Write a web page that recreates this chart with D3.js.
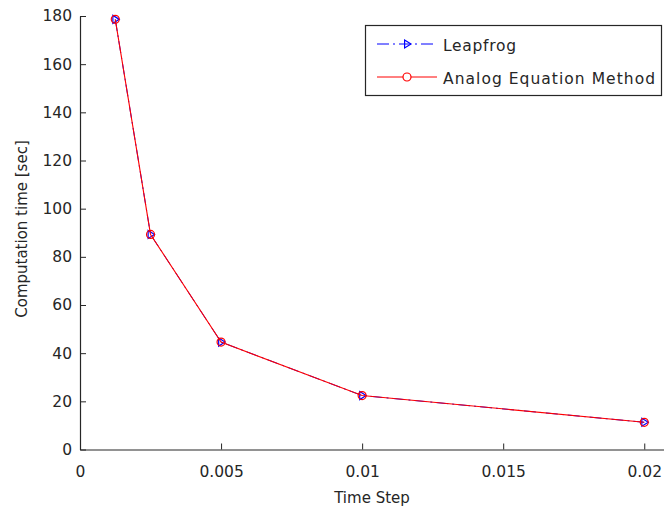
<!DOCTYPE html>
<html>
<head>
<meta charset="utf-8">
<script src="https://cdn.jsdelivr.net/npm/d3@7"></script>
<style>
  body { margin: 0; background: #fff; }
  svg { display: block; }
  text { font-family: "DejaVu Sans", sans-serif; fill: #262626; }
</style>
</head>
<body>
<svg id="chart" width="664" height="509"></svg>
<script>
// Time step sizes and the measured computation time for each solver
const timeSteps = [0.00125, 0.0025, 0.005, 0.01, 0.02];
const leapfrogTime = [178.6, 89.3, 44.6, 22.4, 11.3];
const aemTime = [178.6, 89.3, 44.6, 22.4, 11.3];
const xTicks = [0, 0.005, 0.01, 0.015, 0.02];
const xTickLabels = ["0", "0.005", "0.01", "0.015", "0.02"];
const yTicks = [0, 20, 40, 60, 80, 100, 120, 140, 160, 180];
const seriesNames = ["Leapfrog", "Analog Equation Method"];

const svg = d3.select("#chart");
const plot = { left: 80, right: 664, top: 16, bottom: 449.5 };

const x = d3.scaleLinear().domain([0, 0.0207]).range([plot.left, plot.right]);
const y = d3.scaleLinear().domain([0, 180]).range([plot.bottom, plot.top]);

const tickFont = 15.5;
const labelFont = 15;

// Axes with inward ticks (left and bottom only)
const xAxis = d3.axisBottom(x).tickValues(xTicks)
  .tickFormat((d, i) => xTickLabels[i]).tickSizeInner(-6).tickSizeOuter(0).tickPadding(16.5);
const yAxis = d3.axisLeft(y).tickValues(yTicks)
  .tickSizeInner(-6).tickSizeOuter(0).tickPadding(8);

const gx = svg.append("g").attr("transform", `translate(0,${plot.bottom})`).call(xAxis);
const gy = svg.append("g").attr("transform", `translate(${plot.left},0)`).call(yAxis);
[gx, gy].forEach(g => {
  g.select(".domain").attr("stroke", "#262626").attr("stroke-width", 1.2);
  g.selectAll(".tick line").attr("stroke", "#262626");
  g.selectAll(".tick text").style("font-family", "DejaVu Sans, sans-serif")
    .style("font-size", tickFont + "px").attr("fill", "#262626");
});

// Axis titles
svg.append("text").attr("x", (plot.left + plot.right) / 2).attr("y", 503)
  .attr("text-anchor", "middle").style("font-size", labelFont + "px").text("Time Step");
svg.append("text").attr("transform", "translate(27,229) rotate(-90)")
  .attr("text-anchor", "middle").style("font-size", labelFont + "px").text("Computation time [sec]");

const line = d3.line().x(d => x(d[0])).y(d => y(d[1]));
const lfData = timeSteps.map((t, i) => [t, leapfrogTime[i]]);
const aemData = timeSteps.map((t, i) => [t, aemTime[i]]);

const dashDot = "12,4,2,4";
const triangle = (cx, cy, s) => `M${cx - s * 0.6},${cy - s} L${cx + s},${cy} L${cx - s * 0.6},${cy + s} Z`;

// Leapfrog: blue dash-dot line with right-pointing triangles
svg.append("path").datum(lfData).attr("d", line)
  .attr("fill", "none").attr("stroke", "#0000ff").attr("stroke-width", 1)
  .attr("stroke-dasharray", dashDot);
svg.append("g").selectAll("path").data(lfData).join("path")
  .attr("d", d => triangle(x(d[0]), y(d[1]), 4))
  .attr("fill", "none").attr("stroke", "#0000ff").attr("stroke-width", 1.2);

// Analog Equation Method: red solid line with circles
svg.append("path").datum(aemData).attr("d", line)
  .attr("fill", "none").attr("stroke", "#ff0000").attr("stroke-width", 1.1);
svg.append("g").selectAll("circle").data(aemData).join("circle")
  .attr("cx", d => x(d[0])).attr("cy", d => y(d[1])).attr("r", 4)
  .attr("fill", "none").attr("stroke", "#ff0000").attr("stroke-width", 1.2);

// Legend
const lg = svg.append("g");
lg.append("rect").attr("x", 365.5).attr("y", 25.5).attr("width", 296).attr("height", 70)
  .attr("fill", "#fff").attr("stroke", "#262626").attr("stroke-width", 1.2);
const rows = [44, 77];
const labelWidths = [73, 212];
lg.append("line").attr("x1", 377).attr("x2", 437).attr("y1", rows[0]).attr("y2", rows[0])
  .attr("stroke", "#0000ff").attr("stroke-dasharray", dashDot);
lg.append("path").attr("d", triangle(407, rows[0], 4))
  .attr("fill", "none").attr("stroke", "#0000ff").attr("stroke-width", 1.2);
lg.append("line").attr("x1", 377).attr("x2", 437).attr("y1", rows[1]).attr("y2", rows[1])
  .attr("stroke", "#ff0000");
lg.append("circle").attr("cx", 407).attr("cy", rows[1]).attr("r", 4)
  .attr("fill", "#fff").attr("stroke", "#ff0000").attr("stroke-width", 1.2);
lg.selectAll("text.lbl").data(seriesNames).join("text").attr("class", "lbl")
  .attr("x", 443).attr("y", (d, i) => rows[i] + 7)
  .attr("textLength", (d, i) => labelWidths[i]).attr("lengthAdjust", "spacing")
  .style("font-size", tickFont + "px").text(d => d);
</script>
</body>
</html>
